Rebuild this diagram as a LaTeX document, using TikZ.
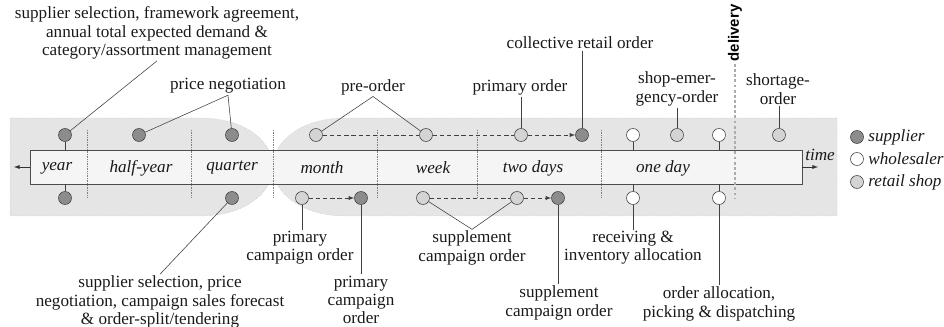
\documentclass[tikz,border=0pt]{standalone}
\usepackage{fontspec}
\setmainfont{Liberation Serif}
\setsansfont{Liberation Sans}
\newfontfamily\lblfont{Liberation Serif}
\usepackage{tikz}
\usetikzlibrary{positioning}

\tikzset{
  lbl/.style={align=center, text=black!90, inner sep=1pt, font=\lblfont\fontsize{12}{12.8}\selectfont},
  ital/.style={lbl, font=\lblfont\fontsize{12}{12.8}\selectfont\itshape},
  supp/.style={circle, draw=black!75, fill=black!45, minimum size=9.1pt, inner sep=0pt},
  whole/.style={supp, fill=white},
  retail/.style={supp, fill=black!17},
  link/.style={black!75, thin},
  order/.style={black!75, thin, densely dashed, -latex},
  band/.style={fill=black!10, draw=gray, very thin, densely dotted},
  divider/.style={gray, very thin, densely dotted}
}

\begin{document}
\begin{tikzpicture}[x=0.7pt,y=-0.7pt]

\useasboundingbox (0,0) rectangle (944,327);

% background bands
\draw[band] (10,118) -- (201,118) .. controls (243,118) and (273,140) .. (273,167)
  .. controls (273,194) and (243,216) .. (201,216) -- (10,216) -- cycle;
\draw[band] (837,118) -- (345,118) .. controls (303,118) and (273,140) .. (273,167)
  .. controls (273,194) and (303,216) .. (345,216) -- (837,216) -- cycle;

% time bar
\node[draw=black!70, fill=black!4, minimum width=540.4pt, minimum height=23.8pt, inner sep=0pt] (bar) at (416,167) {};
\coordinate (tleft) at (14,167);
\coordinate (tright) at (818,167);
\draw[black!80, -latex] (bar.west) -- (tleft);
\draw[black!80, -latex] (bar.east) -- (tright);
\node[ital] (timelbl) at (820,155) {time};

\foreach \x in {87,191,273,377,477,601}
  \draw[divider] (\x,130) -- (\x,198);

\foreach \x/\t in {57/year, 141/half-year, 232/quarter, 322/month, 433/week, 533/two days, 663/one day}
  \node[ital] (per\x) at (\x,168) {\t};

% delivery
\coordinate (dtop) at (735,64);
\coordinate (dbot) at (735,199);
\draw[gray!65, line width=2pt, dash pattern=on 2pt off 1.6pt] (dtop) -- (dbot);
\node[rotate=90, font=\fontsize{10.5}{12}\selectfont\sffamily\bfseries] (deliv) at (735,33) {delivery};

% upper row
\node[supp] (s1) at (65,135) {};
\node[supp] (s2) at (139,135) {};
\node[supp] (s3) at (232,135) {};
\node[retail] (r1) at (316,135) {};
\node[retail] (r2) at (426,135) {};
\node[retail] (r3) at (521,135) {};
\node[supp] (s4) at (582,135) {};
\node[whole] (w1) at (633,135) {};
\node[retail] (r4) at (677,135) {};
\node[whole] (w2) at (719,135) {};
\node[retail] (r5) at (779,135) {};

% lower row
\node[supp] (s5) at (65,198) {};
\node[supp] (s6) at (232,198) {};
\node[retail] (r6) at (302,198) {};
\node[supp] (s7) at (361,198) {};
\node[retail] (r7) at (423,198) {};
\node[retail] (r8) at (517,198) {};
\node[supp] (s8) at (558,198) {};
\node[whole] (w3) at (633,198) {};
\node[whole] (w4) at (719,198) {};

\foreach \n in {s1,w1,w2}
  \draw[link] (\n) -- (\n |- bar.north);
\foreach \n in {s5,w3,w4}
  \draw[link] (\n) -- (\n |- bar.south);

\draw[order] (r1) -- (r2) -- (r3) -- (s4);
\draw[order] (r6) -- (s7);
\draw[order] (r7) -- (r8) -- (s8);

% labels above
\node[lbl] (agree) at (157,33) {supplier selection, framework agreement,\\annual total expected demand \&\\category/assortment management};
\node[lbl] (price) at (228,86) {price negotiation};
\node[lbl] (pre) at (373,87) {pre-order};
\node[lbl] (prim) at (520,87) {primary order};
\node[lbl] (coll) at (580,43) {collective retail order};
\node[lbl] (emer) at (677,89) {shop-emer-\\gency-order};
\node[lbl] (short) at (778,89) {shortage-\\order};

\draw[link] (agree.south) -- (s1);
\draw[link] (price.south) -- (s2);
\draw[link] (price.south) -- (s3);
\draw[link] (pre.south) -- (r1);
\draw[link] (pre.south) -- (r2);
\draw[link] (r3 |- prim.south) -- (r3);
\draw[link] (s4 |- coll.south) -- (s4);
\draw[link] (r4 |- emer.south) -- (r4);
\draw[link] (r5 |- short.south) -- (r5);

% labels below
\node[lbl] (split) at (160,302) {supplier selection, price\\negotiation, campaign sales forecast\\\& order-split/tendering};
\node[lbl] (pcamp) at (300,248) {primary\\campaign order};
\node[lbl] (pcampb) at (361,300) {primary\\campaign\\order};
\node[lbl] (scamp) at (472,248) {supplement\\campaign order};
\node[lbl] (scampb) at (559,303) {supplement\\campaign order};
\node[lbl] (recv) at (633,248) {receiving \&\\inventory allocation};
\node[lbl] (alloc) at (719,304) {order allocation,\\picking \& dispatching};

\draw[link] (s6) -- (split.north);
\draw[link] (r6) -- (r6 |- pcamp.north);
\draw[link] (s7) -- (s7 |- pcampb.north);
\draw[link] (r7) -- (scamp.north);
\draw[link] (r8) -- (scamp.north);
\draw[link] (s8) -- (s8 |- scampb.north);
\draw[link] (w3) -- (w3 |- recv.north);
\draw[link] (w4) -- (w4 |- alloc.north);

% legend
\node[supp] (ls) at (857,137) {};
\node[whole] (lw) at (857,159) {};
\node[retail] (lr) at (857,182) {};
\node[ital, right=2pt of ls] (lstxt) {supplier};
\node[ital, right=2pt of lw] (lwtxt) {wholesaler};
\node[ital, right=2pt of lr] (lrtxt) {retail shop};

\end{tikzpicture}
\end{document}
